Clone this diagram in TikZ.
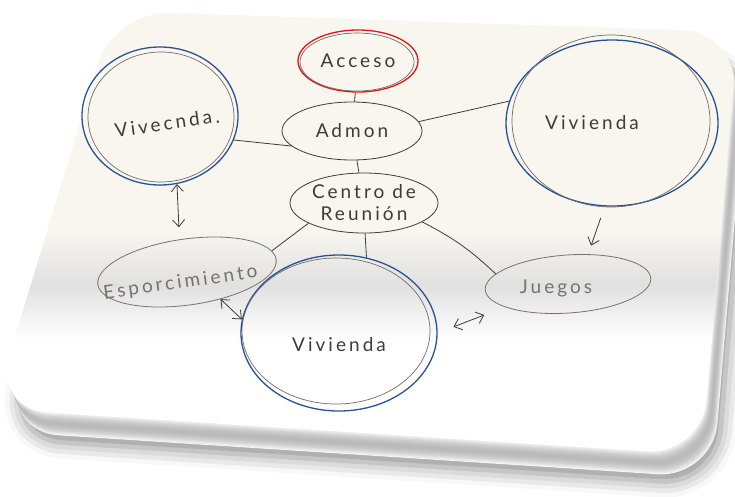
\documentclass[tikz,border=0pt]{standalone}
\usepackage{fontspec}
\usetikzlibrary{shapes.geometric}
\usetikzlibrary{arrows.meta}
\usetikzlibrary{shadows.blur}

\newfontfamily\hand[LetterSpace=16]{Lato}

\definecolor{paper}{RGB}{248,246,239}
\definecolor{inkblue}{RGB}{40,82,150}
\definecolor{inkred}{RGB}{230,22,22}
\definecolor{pencil}{RGB}{62,60,58}
\definecolor{faded}{RGB}{120,114,107}

\begin{document}
\begin{tikzpicture}[
        x=1pt, y=-1pt,
        >={Straight Barb[length=7pt,width=12pt]},
        sheet/.style={rounded corners=55pt},
        hand/.style={font=\hand\fontsize{19}{22}\selectfont, text=pencil},
        spot/.style={ellipse, inner sep=0pt, draw=pencil, line width=0.8pt},
        house/.style={spot, draw=inkblue, line width=1.3pt},
        entry/.style={spot, draw=inkred, line width=1.3pt},
        faint/.style={spot, draw=faded},
        trace/.style={draw=pencil!75, line width=0.7pt},
        link/.style={draw=pencil, line width=0.8pt}
    ]
    \clip (0,0) rectangle (735,496);

    % hoja
    \begin{scope}[shift={(8,16)}]
        \path[sheet, blur shadow={shadow xshift=6pt, shadow yshift=-14pt,
            shadow blur radius=16pt, shadow opacity=45}]
            (114,11) -- (738,32) -- (702,455) -- (-7,409) -- cycle;
    \end{scope}
    \foreach \k in {24,23,...,1} {
        \pgfmathsetmacro\tone{int(8+46*sin(7.5*\k))}
        \begin{scope}[shift={(0.45*\k,0.95*\k)}]
            \fill[sheet, gray!\tone]
                (114,11) -- (738,32) -- (702,455) -- (-7,409) -- cycle;
        \end{scope}
    }
    \begin{scope}
        \clip[sheet] (114,11) -- (738,32) -- (702,455) -- (-7,409) -- cycle;
        \fill[paper] (-10,0) rectangle (740,230);
        \shade[top color=paper, bottom color=white, middle color=black!12]
            (-10,230) rectangle (740,340);
        \fill[white] (-10,340) rectangle (740,470);
    \end{scope}

    % nodos
    \node[entry, minimum width=120pt, minimum height=62pt,
        label={[hand]center:Acceso}] (acceso) at (358,61) {};
    \node[spot, minimum width=140pt, minimum height=58pt,
        label={[hand]center:Admon}] (admon) at (352,131) {};
    \node[spot, minimum width=148pt, minimum height=60pt,
        label={[hand, align=center]center:Centro de\\Reunión}] (centro) at (364,203) {};
    \node[house, minimum width=156pt, minimum height=138pt,
        label={[hand, rotate=8, xshift=6pt, yshift=-8pt]center:Vivecnda.}] (vivA) at (160,116) {};
    \node[house, minimum width=212pt, minimum height=166pt,
        label={[hand, xshift=-20pt]center:Vivienda}] (vivB) at (612,123) {};
    \node[house, minimum width=196pt, minimum height=156pt,
        label={[hand, yshift=-12pt]center:Vivienda}] (vivC) at (339,333) {};
    \node[faint, rotate=8, minimum width=180pt, minimum height=66pt,
        label={[hand, text=faded, rotate=8, xshift=-8pt, yshift=-10pt]center:Esporcimiento}] (esparc) at (187,272) {};
    \node[faint, rotate=4, minimum width=166pt, minimum height=58pt,
        label={[hand, text=faded, xshift=-12pt, yshift=-4pt]center:Juegos}] (juegos) at (568,284) {};

    % trazo de lapiz
    \draw[trace] (acceso.center) ++(-1,1) ellipse [x radius=57, y radius=29];
    \draw[trace] (vivA.center) ++(1,1) ellipse [x radius=73, y radius=65];
    \draw[trace] (vivB.center) ++(-1,-2) ellipse [x radius=99, y radius=86];
    \draw[trace] (vivC.center) ++(-3,-2) ellipse [x radius=94, y radius=73];

    % conexiones
    \draw[link] (acceso) -- (admon);
    \draw[link] (vivA.-18) -- (admon.194);
    \draw[link] (admon.8) -- (vivB.168);
    \draw[link] (admon) -- (centro);
    \draw[link] (centro.200) -- (esparc.6);
    \draw[link] (centro.-88) -- (vivC.70);
    \draw[link] (centro.-18) to[bend left=8] (juegos.168);
    \draw[link, <->, shorten >=12pt] (vivA.-76) -- (esparc.95);
    \draw[link, <->] (esparc.-47) -- (vivC.172);
    \draw[link, <->, shorten <=17pt, shorten >=22pt] (vivC.0) -- (juegos.196);
    \draw[link, ->, shorten <=12pt, shorten >=9pt] (vivB.-95) -- (juegos.52);
\end{tikzpicture}
\end{document}
